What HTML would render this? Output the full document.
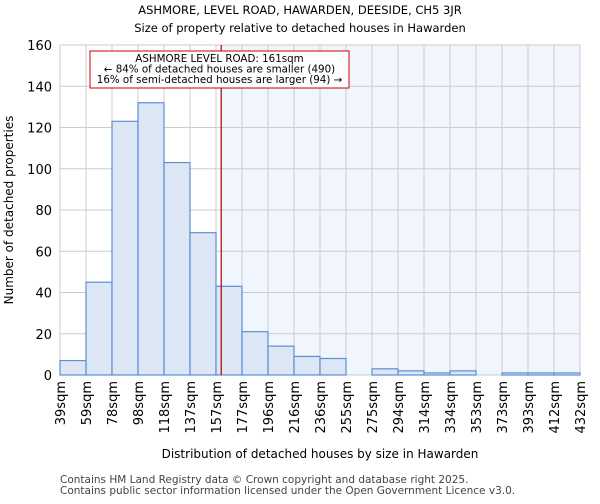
<!DOCTYPE html>
<html><head><meta charset="utf-8"><style>
body{margin:0;background:#fff;font-family:"DejaVu Sans","Liberation Sans",sans-serif}
</style></head><body>
<svg id="chart" width="600" height="500" xmlns="http://www.w3.org/2000/svg" font-family="DejaVu Sans, Liberation Sans, sans-serif">
<text x="300" y="14" text-anchor="middle" font-size="11.5">ASHMORE, LEVEL ROAD, HAWARDEN, DEESIDE, CH5 3JR</text>
<text x="300" y="32" text-anchor="middle" font-size="11.5">Size of property relative to detached houses in Hawarden</text>
<g id="plot"></g>
<text x="320" y="458" text-anchor="middle" font-size="12">Distribution of detached houses by size in Hawarden</text>
<text transform="translate(13,210) rotate(-90)" text-anchor="middle" font-size="12">Number of detached properties</text>
<text x="60" y="483" font-size="10.5" fill="#444">Contains HM Land Registry data © Crown copyright and database right 2025.</text>
<text x="60" y="494" font-size="10.5" fill="#444">Contains public sector information licensed under the Open Government Licence v3.0.</text>
</svg>
<script>
const xLabels=["39sqm","59sqm","78sqm","98sqm","118sqm","137sqm","157sqm","177sqm","196sqm","216sqm","236sqm","255sqm","275sqm","294sqm","314sqm","334sqm","353sqm","373sqm","393sqm","412sqm","432sqm"];
const counts=[7,45,123,132,103,69,43,21,14,9,8,0,3,2,1,2,0,1,1,1];
const yTicks=[0,20,40,60,80,100,120,140,160];
const markerValue=161;
const L=60,R=580,T=45,B=375,yMax=160;
const NS="http://www.w3.org/2000/svg";
const g=document.getElementById('plot');
const bw=(R-L)/counts.length;
const xs=i=>L+i*bw;
const ys=v=>B-(v/yMax)*(B-T);
function el(t,a){const e=document.createElementNS(NS,t);for(const k in a)e.setAttribute(k,a[k]);g.appendChild(e);return e;}
let mi=6;for(let i=0;i<xLabels.length-1;i++){const a=parseFloat(xLabels[i]),b=parseFloat(xLabels[i+1]);if(markerValue>=a&&markerValue<b){mi=i+(markerValue-a)/(b-a);break;}}
const mx=xs(mi);
const sh=el('rect',{x:mx,y:T,width:R-mx,height:B-T,fill:'#eef3fc',opacity:0.8});


yTicks.forEach(v=>{const l=el('line',{x1:L,x2:R,y1:ys(v),y2:ys(v),stroke:'#ccc'});


const t=el('text',{x:L-8,y:ys(v)+5,'text-anchor':'end','font-size':13});t.textContent=v;

});
xLabels.forEach((s,i)=>{const x=xs(i);const l=el('line',{x1:x,x2:x,y1:T,y2:B,stroke:'#ccc'});


const t=el('text',{transform:`translate(${x+5},${B+6}) rotate(-90)`,'text-anchor':'end','font-size':13});t.textContent=s;

});
counts.forEach((c,i)=>{if(c<=0)return;const r=el('rect',{x:xs(i),y:ys(c),width:bw,height:B-ys(c),fill:'#dce6f5',stroke:'#5b8fd6','stroke-width':1.2});

});
const ml=el('line',{x1:mx,x2:mx,y1:T,y2:B,stroke:'#aa0000','stroke-width':1.2});


const box=el('rect',{x:90,y:51,width:259,height:37,fill:'#fff',stroke:'#cc0000','stroke-width':1});


["ASHMORE LEVEL ROAD: 161sqm","← 84% of detached houses are smaller (490)","16% of semi-detached houses are larger (94) →"].forEach((s,i)=>{const t=el('text',{x:219.5,y:62+i*10.5,'text-anchor':'middle','font-size':10.3});t.textContent=s;

});
</script>
</body></html>
